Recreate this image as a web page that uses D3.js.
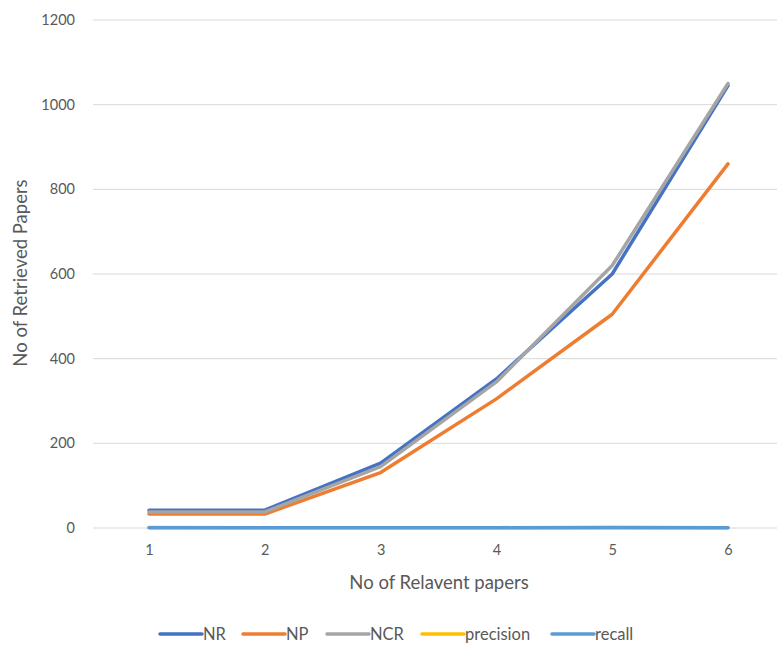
<!DOCTYPE html>
<html><head><meta charset="utf-8">
<script src="https://cdn.jsdelivr.net/npm/d3@7/dist/d3.min.js"></script>
<style>body{margin:0;background:#fff}svg{display:block}</style>
</head><body>
<script>
const categories = [1, 2, 3, 4, 5, 6];
const NR = [42, 42, 153, 352, 600, 1045];
const NP = [33, 33, 131, 305, 505, 860];
const NCR = [38, 38, 145, 345, 620, 1050];
const precision = [0.9, 0.85, 0.8, 0.75, 2.0, 0.6];
const recall = [0.3, 0.3, 0.3, 0.3, 0.3, 0.3];
const yTicks = [0, 200, 400, 600, 800, 1000, 1200];
const seriesNames = ["NR", "NP", "NCR", "precision", "recall"];
const seriesData = [NR, NP, NCR, precision, recall];
const colors = ["#4472C4", "#ED7D31", "#A5A5A5", "#FFC000", "#5B9BD5"];

const W = 777, H = 646;
const font = "Lato, 'Open Sans', sans-serif";
const svg = d3.select("body").append("svg").attr("width", W).attr("height", H);

const x = d3.scalePoint().domain(categories).range([149, 728]);
const y = d3.scaleLinear().domain([0, 1200]).range([528, 20]);

// gridlines
svg.append("g").selectAll("line").data(yTicks).join("line")
  .attr("x1", 93).attr("x2", W)
  .attr("y1", d => y(d)).attr("y2", d => y(d))
  .attr("stroke", "#d9d9d9").attr("stroke-width", 1);

// y axis labels
const yAxis = d3.axisLeft(y).tickValues(yTicks).tickSize(0).tickPadding(0).tickFormat(d3.format("d"));
const gy = svg.append("g").attr("transform", "translate(75,0)").call(yAxis);
gy.select(".domain").remove();
gy.selectAll("text").attr("font-family", font).attr("font-size", 14.5).attr("fill", "#595959");

// x axis labels
const xAxis = d3.axisBottom(x).tickSize(0).tickPadding(0);
const gx = svg.append("g").attr("transform", "translate(0,545)").call(xAxis);
gx.select(".domain").remove();
gx.selectAll("text").attr("font-family", font).attr("font-size", 14.5).attr("fill", "#595959");

// axis titles
svg.append("text").attr("x", 439).attr("y", 589).attr("text-anchor", "middle")
  .attr("font-family", font).attr("font-size", 18.5).attr("fill", "#595959").text("No of Relavent papers");
svg.append("text").attr("transform", "translate(27,273) rotate(-90)").attr("text-anchor", "middle")
  .attr("font-family", font).attr("font-size", 18.5).attr("fill", "#595959").text("No of Retrieved Papers");

// lines
const line = d3.line().x((d, i) => x(categories[i])).y(d => y(d));
seriesData.forEach((s, k) => {
  svg.append("path").datum(s).attr("d", line).attr("fill", "none")
    .attr("stroke", colors[k]).attr("stroke-width", 3.5)
    .attr("stroke-linecap", "round").attr("stroke-linejoin", "round");
});

// legend
const legX = [160, 243, 327, 422, 552];
const lg = svg.append("g");
seriesNames.forEach((n, k) => {
  lg.append("line").attr("x1", legX[k]).attr("x2", legX[k] + 42).attr("y1", 634).attr("y2", 634)
    .attr("stroke", colors[k]).attr("stroke-width", 3.5).attr("stroke-linecap", "round");
  lg.append("text").attr("x", legX[k] + 43).attr("y", 640).attr("font-family", font)
    .attr("font-size", 16.5).attr("fill", "#595959").text(n);
});
</script>
</body></html>
